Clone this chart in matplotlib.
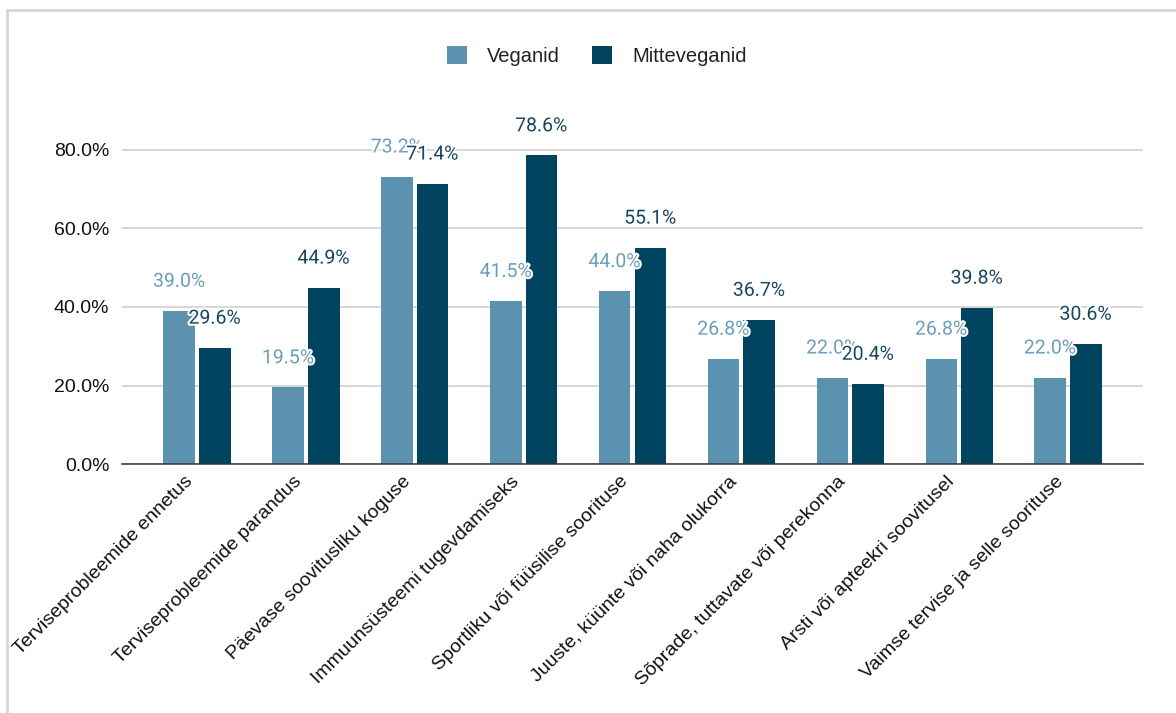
import numpy as np
import matplotlib.pyplot as plt
import matplotlib.patheffects as pe
import matplotlib.transforms as mtransforms
from matplotlib.patches import Rectangle

# data
categories = [
    'Terviseprobleemide ennetus',
    'Terviseprobleemide parandus',
    'Päevase soovitusliku koguse',
    'Immuunsüsteemi tugevdamiseks',
    'Sportliku või füüsilise soorituse',
    'Juuste, küünte või naha olukorra',
    'Sõprade, tuttavate või perekonna',
    'Arsti või apteekri soovitusel',
    'Vaimse tervise ja selle soorituse',
]
veganid = [39.0, 19.5, 73.2, 41.5, 44.0, 26.8, 22.0, 26.8, 22.0]
mitteveganid = [29.6, 44.9, 71.4, 78.6, 55.1, 36.7, 20.4, 39.8, 30.6]
series_names = ['Veganid', 'Mitteveganid']
yticks = [0, 20, 40, 60, 80]

c_veg = '#5a92b0'
c_non = '#00445f'
c_veg_txt = '#6b9dba'
c_non_txt = '#16465f'

fig = plt.figure(figsize=(11.76, 7.13), dpi=100)
ax = fig.add_axes([0.1037, 0.3492, 0.8683, 0.468])

x = np.arange(len(categories))
w = 0.29
gap = 0.037
b1 = ax.bar(x - w / 2 - gap / 2, veganid, w, color=c_veg, label=series_names[0], zorder=3)
b2 = ax.bar(x + w / 2 + gap / 2, mitteveganid, w, color=c_non, label=series_names[1], zorder=3)

# value labels above each bar, white halo
halo = [pe.withStroke(linewidth=3, foreground='white')]
for bars, vals, col in [(b1, veganid, c_veg_txt), (b2, mitteveganid, c_non_txt)]:
    for bar, v in zip(bars, vals):
        ax.annotate(f'{v:.1f}%', (bar.get_x() + bar.get_width() / 2, v),
                    xytext=(0, 21), textcoords='offset points',
                    ha='center', va='center', fontsize=14, color=col,
                    family=['Roboto', 'DejaVu Sans'], path_effects=halo,
                    zorder=5, clip_on=False)

ax.set_xlim(-0.69, len(categories) - 1 + 0.69)
ax.set_ylim(0, 85)
ax.set_yticks(yticks)
ax.set_yticklabels([f'{t:.1f}%' for t in yticks], family='Liberation Sans',
                   fontsize=14, color='#111111')
ax.yaxis.grid(True, color='#cccccc', linewidth=1.1, zorder=0)
ax.set_axisbelow(True)
ax.tick_params(axis='y', length=0, pad=9)
ax.tick_params(axis='x', length=0, pad=2)
for s in ['top', 'right', 'left']:
    ax.spines[s].set_visible(False)
ax.spines['bottom'].set_color('#333333')
ax.spines['bottom'].set_linewidth(1.1)
ax.spines['bottom'].set_zorder(4)

ax.set_xticks(x)
ax.set_xticklabels(categories, rotation=45, ha='right', va='top',
                   rotation_mode='anchor', family='Liberation Sans',
                   fontsize=14, color='#111111')
# nudge the rotated labels left and down a bit
shift = mtransforms.ScaledTranslation(-13 / 100, -6 / 100, fig.dpi_scale_trans)
for lbl in ax.get_xticklabels():
    lbl.set_transform(lbl.get_transform() + shift)

fig.legend(handles=[b1, b2], labels=series_names, loc='center',
           bbox_to_anchor=(597 / 1176, 1 - 56 / 713), ncol=2, frameon=False,
           prop={'family': 'Liberation Sans', 'size': 14.5}, labelcolor='#222222',
           handlelength=1.0, handleheight=1.0, handletextpad=1.0, columnspacing=1.6)

# light frame around the chart (top and left edges visible)
fig.patches.append(Rectangle((7 / 1176, -0.2), 1.2, 1.2 - 10 / 713,
                             transform=fig.transFigure, fill=False,
                             edgecolor='#d9d9d9', linewidth=2.2))

fig.savefig('out.png', dpi=100, facecolor='white')
